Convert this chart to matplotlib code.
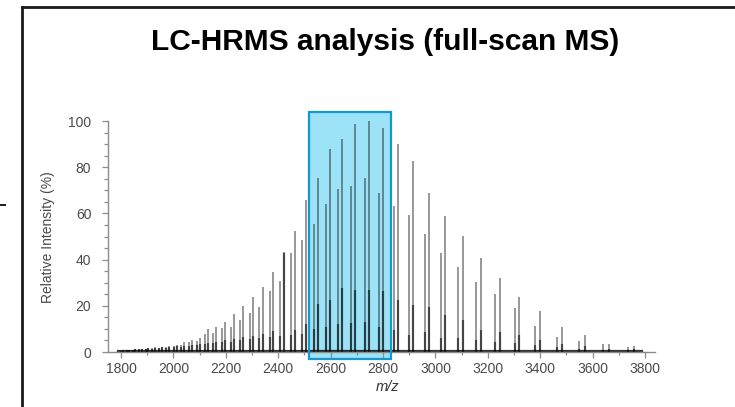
import matplotlib
matplotlib.use("Agg")
import matplotlib.pyplot as plt
from matplotlib.lines import Line2D
from matplotlib.patches import Rectangle
from matplotlib.ticker import MultipleLocator

plt.rcParams["font.family"] = ["Liberation Sans", "DejaVu Sans"]

# Charge-state series, z = 79 down to 38 (m/z and relative intensity in %)
major_mz = [1808.0, 1831.1, 1854.9, 1879.3, 1904.3, 1930.1, 1956.5, 1983.6,
            2011.6, 2040.3, 2069.8, 2100.3, 2131.6, 2163.9, 2197.2, 2231.5,
            2266.9, 2303.4, 2341.2, 2380.2, 2420.5, 2462.2, 2505.4, 2550.1,
            2596.5, 2644.5, 2694.4, 2746.2, 2800.0, 2856.0, 2914.3, 2975.0,
            3038.2, 3104.3, 3173.2, 3245.3, 3320.8, 3399.8, 3482.7, 3569.8,
            3661.3, 3757.6]
major_int = [0.8, 1.0, 1.2, 1.5, 1.8, 2.0, 2.3, 2.6, 3.0, 4.5, 5.3, 5.9,
             9.8, 10.8, 12.9, 16.4, 20.0, 23.8, 28.3, 34.6, 43.3, 52.4, 65.7,
             75.5, 88.0, 92.0, 98.5, 100.0, 96.8, 89.9, 82.7, 69.0, 58.7,
             50.4, 40.5, 31.9, 23.8, 17.8, 11.0, 7.4, 3.5, 2.6]
major_core = [0.8, 1.0, 1.2, 1.4, 1.6, 1.8, 2.0, 2.2, 2.5, 2.8, 3.0, 3.5,
              4.0, 4.5, 5.0, 5.5, 6.5, 7.0, 8.0, 9.0, 43.0, 9.5, 12.0, 21.0,
              22.5, 27.5, 27.0, 27.0, 26.5, 22.5, 20.3, 19.6, 16.0, 13.9,
              9.5, 8.8, 7.4, 5.2, 3.5, 2.5, 1.5, 1.2]

minor_mz = [1797.9, 1820.8, 1844.5, 1868.8, 1893.6, 1919.3, 1945.5, 1972.5,
            2000.3, 2028.9, 2058.2, 2088.5, 2119.7, 2151.8, 2184.9, 2219.0,
            2254.2, 2290.5, 2328.1, 2366.9, 2407.1, 2448.4, 2491.4, 2535.8,
            2582.0, 2629.7, 2679.3, 2730.8, 2784.3, 2840.0, 2898.0, 2958.3,
            3021.2, 3086.9, 3155.4, 3227.1, 3302.2, 3380.8, 3463.2, 3549.8,
            3640.8, 3736.6]
minor_int = [0.6, 0.8, 1.0, 1.2, 1.4, 1.6, 1.9, 2.1, 2.5, 3.0, 4.2, 4.6,
             8.0, 8.3, 10.2, 11.0, 14.0, 16.8, 19.6, 26.2, 30.8, 42.7, 48.5,
             55.3, 64.0, 70.6, 72.0, 75.5, 69.0, 63.4, 59.3, 50.9, 43.0,
             36.9, 30.2, 25.1, 19.1, 11.4, 6.6, 4.9, 3.3, 2.3]
minor_core = [0.6, 0.8, 1.0, 1.1, 1.3, 1.4, 1.6, 1.8, 2.0, 2.3, 2.8, 3.0,
              3.5, 3.8, 4.2, 4.5, 5.0, 5.5, 6.0, 6.5, 7.0, 7.5, 8.0, 10.0,
              11.0, 12.0, 12.5, 13.0, 11.0, 9.5, 7.4, 8.8, 6.0, 6.0, 5.0,
              4.5, 4.0, 3.0, 2.0, 1.5, 1.0, 0.8]

baseline_mz = [1790, 3790]
baseline_int = [0.4, 0.4]

# highlighted m/z window
window_mz = (2517, 2832)
window_int = (-3.0, 104.0)

fig = plt.figure(figsize=(7.35, 4.07), dpi=100)
ax = fig.add_axes([0.1469, 0.1351, 0.7442, 0.5676])

ax.add_patch(Rectangle((window_mz[0], window_int[0]), window_mz[1] - window_mz[0],
                       window_int[1] - window_int[0], facecolor="#9de3f7",
                       edgecolor="none", zorder=1, clip_on=False))

ax.vlines(major_mz, 0, major_int, color="black", alpha=0.42, lw=1.35, zorder=2)
ax.vlines(minor_mz, 0, minor_int, color="black", alpha=0.42, lw=1.35, zorder=2)
ax.vlines(major_mz, 0, major_core, color="black", alpha=0.55, lw=1.6, zorder=2)
ax.vlines(minor_mz, 0, minor_core, color="black", alpha=0.55, lw=1.6, zorder=2)
ax.plot(baseline_mz, baseline_int, color="black", lw=1.6, alpha=0.8, zorder=2)

ax.add_patch(Rectangle((window_mz[0], window_int[0]), window_mz[1] - window_mz[0],
                       window_int[1] - window_int[0], facecolor="none",
                       edgecolor="#1597cf", lw=1.6, zorder=4, clip_on=False))

ax.set_xlim(1750, 3838)
ax.set_ylim(0, 100)
ax.xaxis.set_major_locator(MultipleLocator(200))
ax.xaxis.set_minor_locator(MultipleLocator(100))
ax.yaxis.set_major_locator(MultipleLocator(20))
ax.yaxis.set_minor_locator(MultipleLocator(5))

for side in ("top", "right"):
    ax.spines[side].set_visible(False)
for side in ("left", "bottom"):
    ax.spines[side].set_color("#8c8c8c")
    ax.spines[side].set_linewidth(1.0)

ax.tick_params(which="both", direction="out", color="#8c8c8c", width=0.9,
               labelcolor="#4a4a4a", labelsize=10)
ax.tick_params(axis="y", which="major", length=4, pad=8)
ax.tick_params(axis="y", which="minor", length=3)
ax.tick_params(axis="x", which="major", length=4, pad=3)
ax.tick_params(axis="x", which="minor", length=2.5)

fig.text(48 / 735, 1 - 237 / 407, "Relative Intensity (%)", rotation=90,
         ha="center", va="center", fontsize=10, color="#4a4a4a")
fig.text(388 / 735, 1 - 387 / 407, "m/z", ha="center", va="center",
         fontsize=10.5, style="italic", color="#333333")
fig.text(385 / 735, 1 - 42 / 407, "LC-HRMS analysis (full-scan MS)",
         ha="center", va="center", fontsize=21.5, fontweight="bold", color="black")

# panel frame
fig.add_artist(Line2D([22 / 735, 22 / 735], [0, 1 - 7 / 407],
                      transform=fig.transFigure, color="#1a1a1a", lw=2))
fig.add_artist(Line2D([22 / 735, 1], [1 - 7 / 407, 1 - 7 / 407],
                      transform=fig.transFigure, color="#1a1a1a", lw=2))
fig.add_artist(Line2D([0, 5 / 735], [1 - 205 / 407, 1 - 205 / 407],
                      transform=fig.transFigure, color="#1a1a1a", lw=1.4))

fig.savefig("out.png", dpi=100)
